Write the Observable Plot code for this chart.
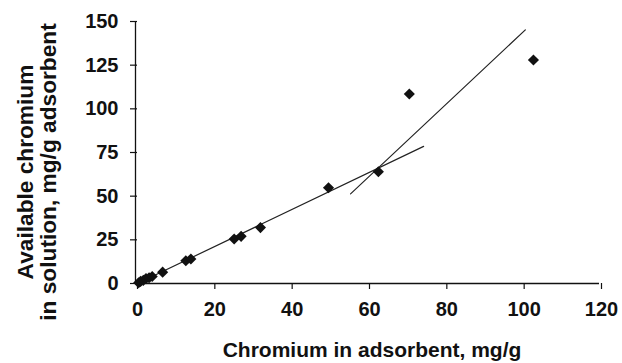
<!DOCTYPE html>
<html><head><meta charset="utf-8">
<script src="https://cdn.jsdelivr.net/npm/d3@7"></script>
<script src="https://cdn.jsdelivr.net/npm/@observablehq/plot@0.6"></script>
<style>body{margin:0;background:#fff} svg{display:block}</style>
</head><body><div id="chart"></div>
<script>
// Data
const chromiumAdsorbent = [0.3, 0.8, 1.5, 2.2, 3, 3.8, 6.5, 12.5, 13.8, 25, 26.8, 31.8, 49.4, 62.3, 70.3, 102.4];
const chromiumSolution  = [0.4, 1.2, 1.8, 2.8, 3.3, 4, 6.5, 13, 14, 25.5, 27, 32, 54.8, 64, 108.5, 128];
// Two fitted straight lines (end points)
const fitLowX = [0, 74];
const fitLowY = [0, 78.5];
const fitHighX = [55.1, 100.3];
const fitHighY = [51.3, 145.2];
// Ticks and labels
const xTicks = [0, 20, 40, 60, 80, 100, 120];
const yTicks = [0, 25, 50, 75, 100, 125, 150];
const xTitle = "Chromium in adsorbent, mg/g";
const yTitleLines = ["Available chromium", "in solution, mg/g adsorbent"];

const points = chromiumAdsorbent.map((x, i) => ({x, y: chromiumSolution[i]}));
const fitLow = fitLowX.map((x, i) => ({x, y: fitLowY[i]}));
const fitHigh = fitHighX.map((x, i) => ({x, y: fitHighY[i]}));

const ink = "#111";
const plot = Plot.plot({
  width: 622, height: 363,
  marginLeft: 137, marginRight: 21, marginTop: 21, marginBottom: 80,
  style: {fontFamily: "'Liberation Sans', Arial, sans-serif", fontWeight: "bold", fontSize: "20px", color: ink, background: "#fff"},
  x: {domain: [0, 120]},
  y: {domain: [0, 150]},
  marks: [
    Plot.axisX({ticks: xTicks, tickSize: 6, tickPadding: 12, label: null, fontSize: 20, stroke: ink, strokeWidth: 1.2}),
    Plot.axisY({ticks: yTicks, tickSize: 7, tickPadding: 12, label: null, fontSize: 20, stroke: ink, strokeWidth: 1.2}),
    Plot.ruleY([0], {stroke: ink, strokeWidth: 1.3, dx: -2}),
    Plot.ruleX([0], {stroke: ink, strokeWidth: 1.3, dx: -2}),
    Plot.line(fitLow, {x: "x", y: "y", stroke: "#222", strokeWidth: 1.2}),
    Plot.line(fitHigh, {x: "x", y: "y", stroke: "#222", strokeWidth: 1.2}),
    Plot.dot(points, {x: "x", y: "y", symbol: "diamond2", fill: ink, stroke: "none", r: 5})
  ]
});

const svg = d3.select(plot);
svg.append("text")
  .attr("x", 372).attr("y", 357)
  .attr("text-anchor", "middle")
  .attr("font-size", 21).attr("font-weight", "bold").attr("fill", ink)
  .text(xTitle);
const yBase = [33, 56];
yTitleLines.forEach((t, i) => {
  svg.append("text")
    .attr("transform", `translate(${yBase[i]},172) rotate(-90)`)
    .attr("text-anchor", "middle")
    .attr("font-size", 22.7).attr("font-weight", "bold").attr("fill", ink)
    .text(t);
});
document.getElementById("chart").appendChild(plot);
</script>
</body></html>
